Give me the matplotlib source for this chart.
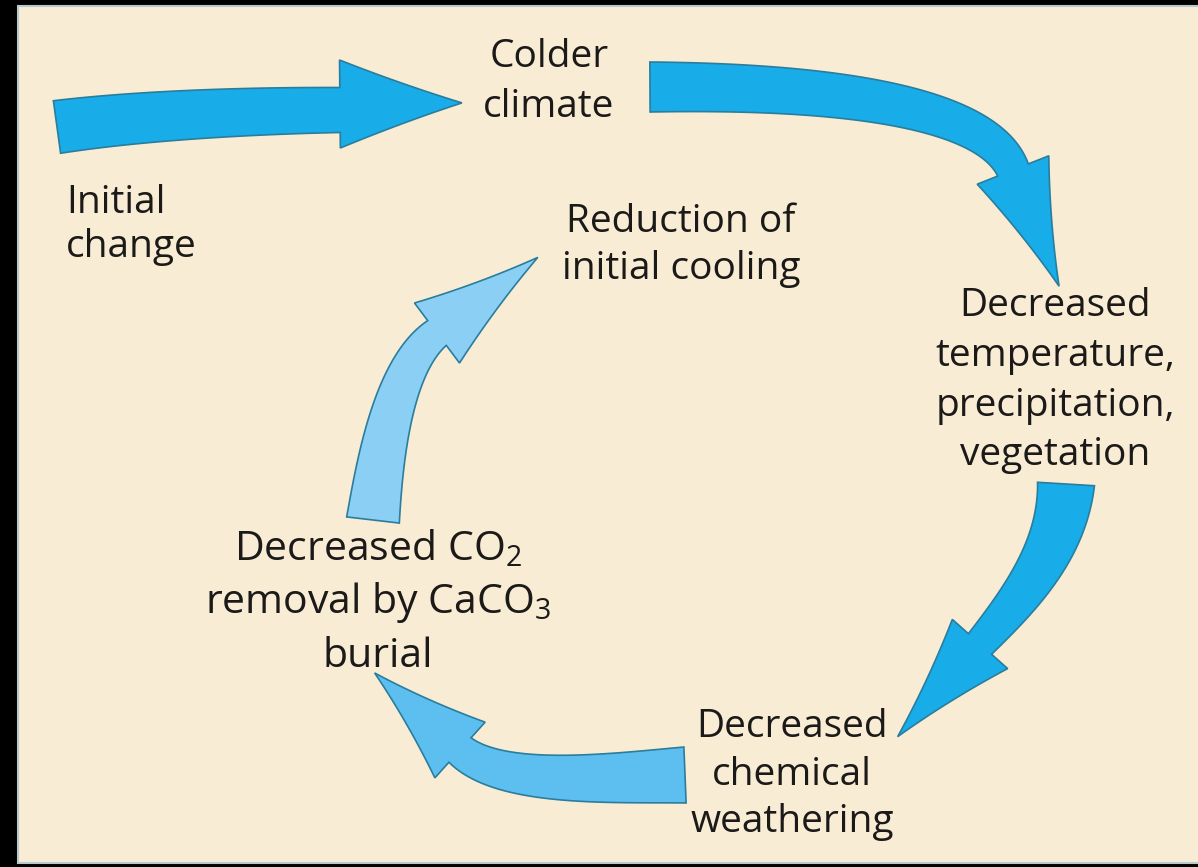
import numpy as np
import matplotlib.pyplot as plt
from matplotlib.patches import Polygon, Rectangle

plt.rcParams['font.family'] = ['Open Sans', 'DejaVu Sans']

# labels of the feedback loop
colder_lines = ['Colder', 'climate']
initial_lines = ['Initial', 'change']
reduction_lines = ['Reduction of', 'initial cooling']
decreased_lines = ['Decreased', 'temperature,', 'precipitation,', 'vegetation']
weathering_lines = ['Decreased', 'chemical', 'weathering']
co2_lines = [r'Decreased $\mathregular{CO_2}$', r'removal by $\mathregular{CaCO_3}$', 'burial']

# arrow colours
dark_blue = '#18ace9'
mid_blue = '#5dbff0'
light_blue = '#8ccff5'
edge_col = '#2a7d9c'
text_col = '#1c1a18'


def bezier(ctrl, t):
    p0, p1, p2, p3 = [np.array(c, dtype=float) for c in ctrl]
    t = t[:, None]
    pts = (1 - t)**3 * p0 + 3 * (1 - t)**2 * t * p1 + 3 * (1 - t) * t**2 * p2 + t**3 * p3
    der = 3 * (1 - t)**2 * (p1 - p0) + 6 * (1 - t) * t * (p2 - p1) + 3 * t**2 * (p3 - p2)
    return pts, der


def head_edge(a, ctrl, b, n=15):
    s = np.linspace(0, 1, n)[:, None]
    return (1 - s)**2 * a + 2 * (1 - s) * s * ctrl + s**2 * b


def curved_arrow(ax, ctrl, w0, w1, head_w, head_len, color, head_off=0, bow=0.12):
    t = np.linspace(0, 1, 80)
    pts, der = bezier(ctrl, t)
    tang = der / np.linalg.norm(der, axis=1)[:, None]
    norm = np.column_stack([-tang[:, 1], tang[:, 0]])
    w = (w0 + (w1 - w0) * t)[:, None] / 2
    left = pts + norm * w
    right = pts - norm * w
    d, n = tang[-1], norm[-1]
    base = pts[-1] + n * head_off
    tip = base + d * head_len
    hl = base + n * head_w
    hr = base - n * head_w
    # slightly concave sides of the head
    cl = (hl + tip) / 2 - n * head_w * bow
    cr = (hr + tip) / 2 + n * head_w * bow
    side_l = head_edge(hl, cl, tip)
    side_r = head_edge(tip, cr, hr)
    outline = np.vstack([left, side_l, side_r[1:], right[::-1]])
    ax.add_patch(Polygon(outline, closed=True, facecolor=color,
                         edgecolor=edge_col, lw=1.2, joinstyle='miter', zorder=3))


def put_lines(ax, lines, x, baselines, ha='center', size=28):
    for s, y in zip(lines, baselines):
        ax.text(x, y, s, ha=ha, va='baseline', fontsize=size, color=text_col, zorder=4)


fig = plt.figure(figsize=(11.98, 8.67), dpi=100, facecolor='black')
ax = fig.add_axes([0, 0, 1, 1])
ax.set_xlim(0, 1198)
ax.set_ylim(867, 0)
ax.axis('off')

ax.add_patch(Rectangle((18, 6), 1190, 857, facecolor='#f8ecd5',
                       edgecolor='#b7c9cd', lw=1.5, zorder=1))

# arrows: initial change -> colder -> decreased T -> weathering -> CO2 -> reduction
curved_arrow(ax, [(57, 127), (130, 117), (230, 111), (340, 110)], 53, 45, 44, 122, dark_blue,
             head_off=-6, bow=0.06)
curved_arrow(ax, [(650, 87), (860, 86), (990, 112), (1013, 170)], 50, 33, 38.5, 125, dark_blue)
curved_arrow(ax, [(1066, 484), (1062, 550), (1020, 599), (980, 644)], 57, 31, 37, 124, dark_blue)
curved_arrow(ax, [(685, 775), (610, 778), (501, 787), (460, 750)], 56, 33, 37.5, 115, mid_blue)
curved_arrow(ax, [(373, 520), (380, 460), (393, 366), (437, 333)], 53, 31, 37.5, 126, light_blue)

put_lines(ax, colder_lines, 549, [67, 117])
put_lines(ax, initial_lines, 66, [213, 257], ha='left')
put_lines(ax, reduction_lines, 681, [232, 279])
put_lines(ax, decreased_lines, 1055, [316, 366, 416, 465])
put_lines(ax, weathering_lines, 792, [737, 785, 832])
put_lines(ax, co2_lines, 378, [560, 613, 667], size=29.5)

fig.savefig('out.png', dpi=100, facecolor='black')
